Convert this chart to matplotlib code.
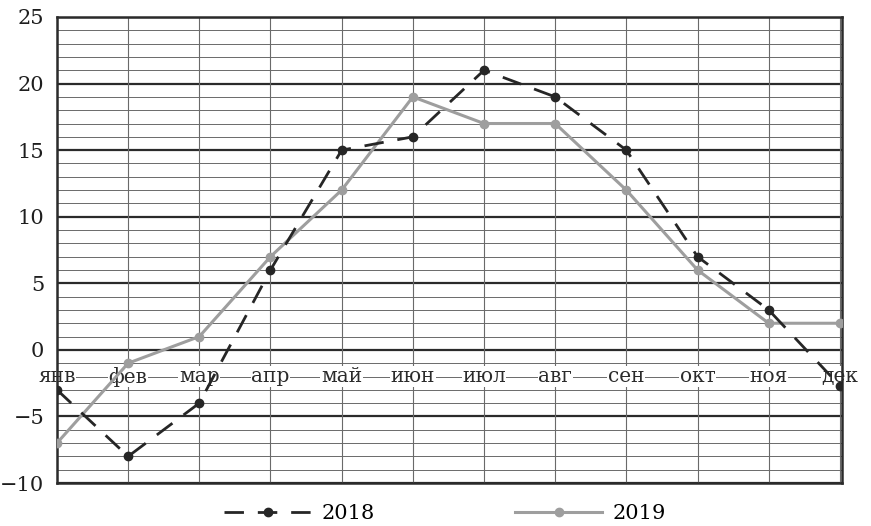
import matplotlib
matplotlib.use('Agg')
import matplotlib.pyplot as plt
import numpy as np

months = ['янв', 'фев', 'мар', 'апр', 'май', 'июн', 'июл', 'авг', 'сен', 'окт', 'ноя', 'дек']
t2018 = [-3, -8, -4, 6, 15, 16, 21, 19, 15, 7, 3, -2.7]
t2019 = [-7, -1, 1, 7, 12, 19, 17, 17, 12, 6, 2, 2]
yticks = [25, 20, 15, 10, 5, 0, -5, -10]


def main():
    plt.rcParams['font.family'] = ['DejaVu Serif']
    fig = plt.figure(figsize=(8.71, 5.26), dpi=100)
    ax = fig.add_axes([0.0654, 0.0817, 0.9013, 0.886])
    x = np.arange(len(months))

    # grid: thin every 1 degree, heavy every 5
    for v in range(-10, 26):
        if v % 5 == 0:
            ax.axhline(v, color='#2b2b2b', lw=1.6, zorder=1)
        else:
            ax.axhline(v, color='#6a6a6a', lw=0.7, zorder=1)
    for xi in x:
        ax.axvline(xi, color='#6a6a6a', lw=0.8, zorder=1)

    ax.plot(x, t2019, color='#9e9e9e', lw=2.2, marker='o', ms=6,
            zorder=3, label='2019')
    ax.plot(x, t2018, color='#262626', lw=2.0, linestyle=(0, (7, 5)),
            marker='o', ms=6, zorder=4, label='2018')

    # month labels sit inside the plot at about -2
    for xi, m in zip(x, months):
        ax.text(xi, -2, m, ha='center', va='center', fontsize=14.5,
                color='#2b2b2b', zorder=2,
                bbox=dict(facecolor='white', edgecolor='none', pad=0.5))

    ax.set_xlim(0, 11.03)
    ax.set_ylim(-10, 25)
    ax.set_xticks([])
    ax.set_yticks(yticks)
    ax.set_yticklabels([str(v).replace('-', '\u2212') for v in yticks])
    ax.tick_params(axis='y', length=0, labelsize=15, colors='#1e1e1e', pad=9)
    for s in ax.spines.values():
        s.set_linewidth(1.8)
        s.set_color('#2b2b2b')

    h, l = ax.get_legend_handles_labels()
    fig.legend(h[::-1], l[::-1], loc='lower center', bbox_to_anchor=(0.511, -0.03),
               ncol=2, frameon=False, handlelength=4.2, columnspacing=6.7,
               fontsize=15, handletextpad=0.5)

    fig.savefig('out.png', dpi=100)
    plt.close()


if __name__ == '__main__':
    main()
